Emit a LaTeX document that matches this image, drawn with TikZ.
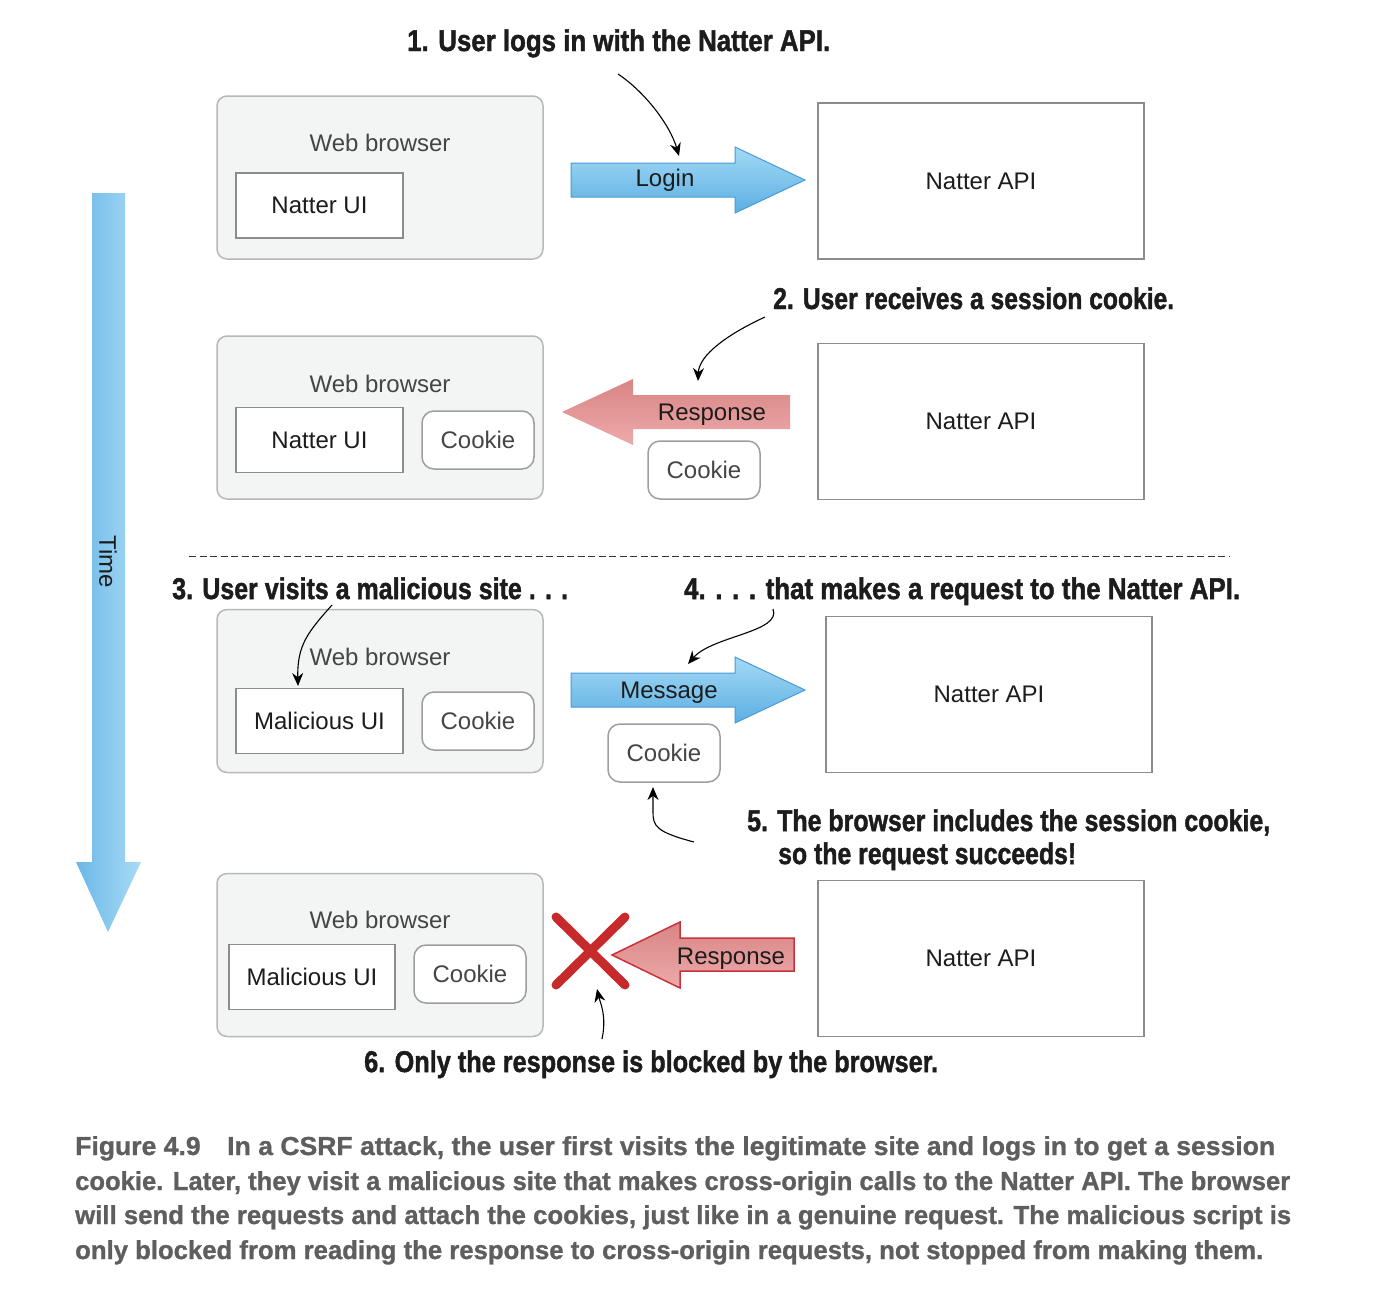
\documentclass[tikz,border=0pt]{standalone}
\usepackage{fontspec}
\setmainfont{Liberation Sans}
\newfontfamily\heavyfont{Liberation Sans}[BoldFeatures={FakeBold=1.6}]
\newfontfamily\capfont{Liberation Sans}[BoldFeatures={FakeBold=1.0}]
\usepackage{graphicx}
\usetikzlibrary{arrows.meta}
\definecolor{browserfill}{HTML}{F3F4F4}
\definecolor{browserdraw}{HTML}{B8B8B8}
\definecolor{boxdraw}{HTML}{8C8C8C}
\definecolor{cookiedraw}{HTML}{9E9E9E}
\definecolor{softtext}{HTML}{454545}
\definecolor{darktext}{HTML}{1C1C1C}
\definecolor{bluetop}{HTML}{A3D9F5}
\definecolor{bluebot}{HTML}{5CAFE3}
\definecolor{blueline}{HTML}{4A9AD6}
\definecolor{timeleft}{HTML}{6BB7E7}
\definecolor{timeright}{HTML}{A8DBF6}
\definecolor{redtop}{HTML}{D98484}
\definecolor{redbot}{HTML}{EDAAAA}
\definecolor{redline}{HTML}{C8323A}
\definecolor{xred}{HTML}{C62A2A}
\definecolor{captiongray}{HTML}{5E5E5E}
\newcommand{\annottext}[2]{\resizebox{#1pt}{\height}{\fontsize{30}{36}\heavyfont\bfseries #2}}
\newcommand{\capline}[2]{\resizebox{#1pt}{\height}{\fontsize{26}{30}\capfont\bfseries #2}}
\tikzset{
  browser/.style={draw=browserdraw, fill=browserfill, line width=1.5pt, rounded corners=10pt, minimum width=326pt, minimum height=163pt, inner sep=0pt},
  uibox/.style={draw=boxdraw, fill=white, line width=1.5pt, minimum width=167pt, minimum height=65pt, inner sep=0pt, text=darktext, font=\fontsize{24}{28}\selectfont},
  cookiebox/.style={draw=cookiedraw, fill=white, line width=1.5pt, rounded corners=12pt, minimum width=112pt, minimum height=58pt, inner sep=0pt, text=softtext, font=\fontsize{24}{28}\selectfont},
  apibox/.style={draw=boxdraw, fill=white, line width=1.3pt, minimum width=326pt, minimum height=156pt, inner sep=0pt, text=darktext, font=\fontsize{24}{28}\selectfont},
  lbl/.style={anchor=base, inner sep=0pt, font=\fontsize{24}{28}\selectfont, text=darktext},
  softlbl/.style={lbl, text=softtext},
  annot/.style={anchor=base west, inner sep=0pt, text=darktext},
  captext/.style={anchor=base west, inner sep=0pt, text=captiongray},
  blueArrow/.style={top color=bluetop, bottom color=bluebot, draw=blueline, line width=1pt},
  redArrow/.style={top color=redtop, bottom color=redbot},
  pointer/.style={draw=black, line width=1.1pt, -{Stealth[length=13pt,width=11pt]}},
}
\begin{document}
\begin{tikzpicture}[x=1pt,y=-1pt]
\useasboundingbox (0,0) rectangle (1376,1299);

% Time arrow
\shade[left color=timeleft, right color=timeright]
  (92,193) -- (125,193) -- (125,862) -- (141,862) -- (108,932) -- (76,862) -- (92,862) -- cycle;
\node[lbl, anchor=center, rotate=-90] (time) at (108,562) {Time};

% ---------- Row 1 ----------
\node[browser] (b1) at (380,177.5) {};
\node[softlbl] (b1t) at (380,151.5) {Web browser};
\node[uibox] (ui1) at (319.5,205.5) {Natter UI};
\node[apibox] (api1) at (981,181) {Natter API};
\shadedraw[blueArrow] (571,163) -- (735,163) -- (735,147) -- (805,180) -- (735,213) -- (735,197) -- (571,197) -- cycle;
\node[lbl] (login) at (665,186.5) {Login};
\node[annot] (a1) at (407,51) {\annottext{423}{1. User logs in with the Natter API.}};
\coordinate (a1s) at (618,74);
\coordinate (a1e) at (679,156);
\draw[pointer] (a1s) .. controls (645,92) and (670,125) .. (a1e);

% ---------- Row 2 ----------
\node[browser] (b2) at (380,417.5) {};
\node[softlbl] (b2t) at (380,392.5) {Web browser};
\node[uibox] (ui2) at (319.5,440) {Natter UI};
\node[cookiebox] (ck2) at (478,440) {Cookie};
\node[apibox] (api2) at (981,421.5) {Natter API};
\shade[redArrow] (790,395) -- (633,395) -- (633,379) -- (562,412) -- (633,445) -- (633,429) -- (790,429) -- cycle;
\node[lbl] (resp2) at (712,420.5) {Response};
\node[cookiebox] (ck2b) at (704,470) {Cookie};
\node[annot] (a2) at (773,309) {\annottext{401}{2. User receives a session cookie.}};
\coordinate (a2s) at (765,317);
\coordinate (a2e) at (698,381);
\draw[pointer] (a2s) .. controls (728,334) and (699,355) .. (a2e);

% dashed separator
\coordinate (dl) at (189,556);
\coordinate (dr) at (1230,556);
\draw[line width=1pt, draw=black!80, dash pattern=on 7pt off 3.5pt] (dl) -- (dr);

% ---------- Row 3 ----------
\node[browser] (b3) at (380,691) {};
\node[softlbl] (b3t) at (380,665.5) {Web browser};
\node[uibox] (mui3) at (319.5,721) {Malicious UI};
\node[cookiebox] (ck3) at (478,721) {Cookie};
\node[apibox] (api3) at (989,694.5) {Natter API};
\shadedraw[blueArrow] (571,673) -- (735,673) -- (735,657) -- (805,690) -- (735,723) -- (735,707) -- (571,707) -- cycle;
\node[lbl] (msg) at (669,698.5) {Message};
\node[cookiebox] (ck3b) at (664,753) {Cookie};
\node[annot] (a3) at (172,599) {\annottext{396}{3. User visits a malicious site . . .}};
\node[annot] (a4) at (684,599) {\annottext{556}{4. . . . that makes a request to the Natter API.}};
\coordinate (a3s) at (332,605);
\coordinate (a3e) at (298,686);
\draw[pointer] (a3s) .. controls (308,632) and (297,645) .. (a3e);
\coordinate (a4s) at (773,609);
\coordinate (a4e) at (688,664);
\draw[pointer] (a4s) .. controls (782,632) and (712,636) .. (a4e);
\node[annot] (a5) at (747,831) {\annottext{523}{5. The browser includes the session cookie,}};
\node[annot] (a5b) at (778,864) {\annottext{298}{so the request succeeds!}};
\coordinate (a5s) at (694,842);
\coordinate (a5m) at (653,812);
\coordinate (a5e) at (653,787);
\draw[pointer] (a5s) .. controls (656,832) and (653,826) .. (a5m) -- (a5e);

% ---------- Row 4 ----------
\node[browser] (b4) at (380,955) {};
\node[softlbl] (b4t) at (380,928.5) {Web browser};
\node[uibox, minimum width=166pt] (mui4) at (312,977) {Malicious UI};
\node[cookiebox] (ck4) at (470,974) {Cookie};
\node[apibox] (api4) at (981,958.5) {Natter API};
\shadedraw[redArrow, draw=redline, line width=1.5pt] (794,938) -- (680,938) -- (680,922) -- (612,955) -- (680,988) -- (680,971) -- (794,971) -- cycle;
\node[lbl] (resp4) at (731,964.5) {Response};
\coordinate (x1) at (556,917);
\coordinate (x2) at (625,985);
\coordinate (x3) at (625,917);
\coordinate (x4) at (556,985);
\draw[xred, line width=9pt, line cap=round] (x1) -- (x2);
\draw[xred, line width=9pt, line cap=round] (x3) -- (x4);
\node[annot] (a6) at (364,1072) {\annottext{574}{6. Only the response is blocked by the browser.}};
\coordinate (a6s) at (602,1039);
\coordinate (a6e) at (597,989);
\draw[pointer] (a6s) .. controls (607,1016) and (600,1002) .. (a6e);

% ---------- Caption ----------
\node[captext] (c1) at (75,1155) {\capline{1200}{Figure 4.9\hspace{26pt}In a CSRF attack, the user first visits the legitimate site and logs in to get a session}};
\node[captext] (c2) at (75,1190) {\capline{1215}{cookie. Later, they visit a malicious site that makes cross-origin calls to the Natter API. The browser}};
\node[captext] (c3) at (75,1224) {\capline{1216}{will send the requests and attach the cookies, just like in a genuine request. The malicious script is}};
\node[captext] (c4) at (75,1259) {\capline{1188}{only blocked from reading the response to cross-origin requests, not stopped from making them.}};
\end{tikzpicture}
\end{document}
